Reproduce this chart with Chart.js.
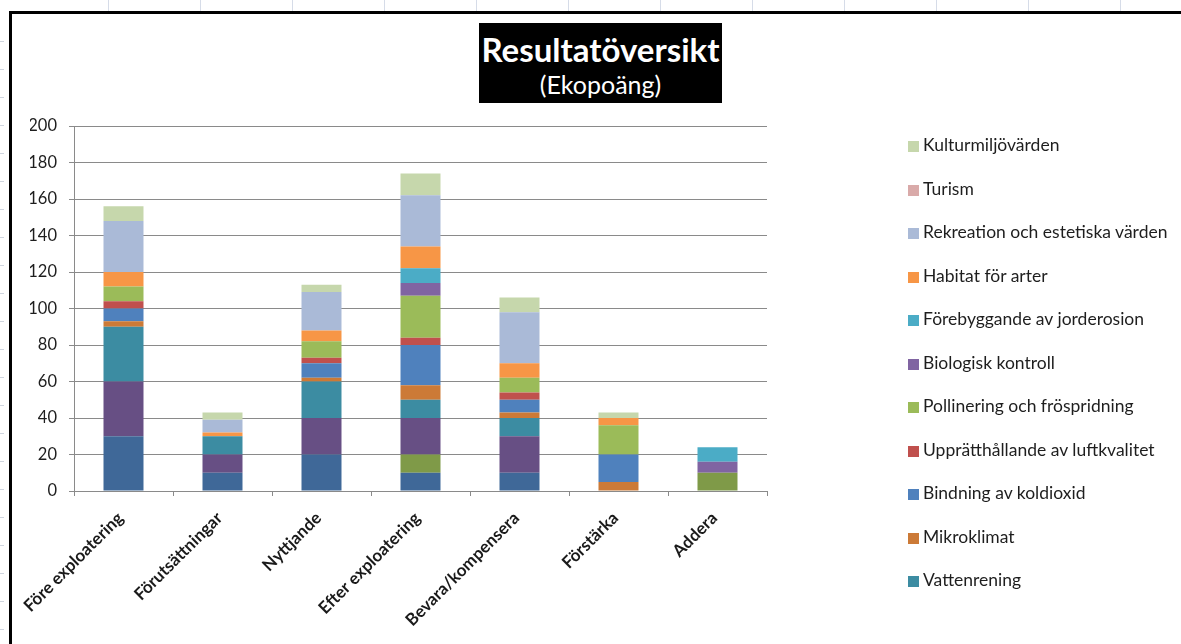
<!DOCTYPE html>
<html lang="sv">
<head>
<meta charset="utf-8">
<title>Resultatöversikt</title>
<script src="https://cdn.jsdelivr.net/npm/chart.js@4.4.1/dist/chart.umd.min.js"></script>
<style>
    html, body { margin: 0; padding: 0; background: #fff; }
    body { width: 1181px; height: 644px; position: relative; overflow: hidden; font-family: Lato, sans-serif; }
    /* kalkylbladets rutnät bakom diagrammet */
    .sheet-top { position: absolute; left: 0; top: 0; width: 1181px; height: 11px;
        background: repeating-linear-gradient(90deg, transparent 0 91px, #d6dce8 91px 92px); background-position: 17px 0; }
    .sheet-left { position: absolute; left: 0; top: 14px; width: 4px; height: 630px;
        background: repeating-linear-gradient(180deg, transparent 0 27px, #cfd5df 27px 28px); background-position: 0 0; }
    .frame { position: absolute; left: 9px; top: 11px; width: 1172px; height: 633px;
        border-left: 3px solid #000; border-top: 3px solid #000; background: #fff; }
    .chart-wrap { position: absolute; left: 12px; top: 14px; width: 1169px; height: 630px; }
    .title-box { position: absolute; left: 479px; top: 23px; width: 243px; height: 80px; background: #000;
        color: #fff; text-align: center; }
    .title-box .t1 { font-weight: 700; font-size: 33px; line-height: 36px; margin-top: 8px; }
    .title-box .t2 { font-size: 25px; line-height: 30px; margin-top: 2px; }
    #legend { position: absolute; left: 908px; top: 0; margin: 0; padding: 0; list-style: none; }
    #legend li { position: absolute; left: 0; white-space: nowrap; font-size: 17.5px; color: #1e1e1e; line-height: 20px; }
    #legend li span.box { display: inline-block; width: 11px; height: 11px; margin-right: 4px; vertical-align: -1px; }
</style>
</head>
<body>
<div class="sheet-top"></div>
<div class="sheet-left"></div>
<div class="frame"></div>
<div class="chart-wrap"><canvas id="chart"></canvas></div>
<div class="title-box"><div class="t1">Resultatöversikt</div><div class="t2">(Ekopoäng)</div></div>
<ul id="legend"></ul>
<script>
'use strict';

// ===== Data =====
const categories = ['Före exploatering', 'Förutsättningar', 'Nyttjande', 'Efter exploatering', 'Bevara/kompensera', 'Förstärka', 'Addera'];
const yTicks = [0, 20, 40, 60, 80, 100, 120, 140, 160, 180, 200];

// serier nedifrån och upp (de tre första syns inte i den avklippta legenden)
const livsmedel        = [30, 10, 20, 10, 10, 0, 0];
const farskvatten      = [0, 0, 0, 10, 0, 0, 10];
const extremvader      = [30, 10, 20, 20, 20, 0, 0];
const vattenrening     = [30, 10, 20, 10, 10, 0, 0];
const mikroklimat      = [3, 0, 2, 8, 3, 5, 0];
const koldioxid        = [7, 0, 8, 22, 7, 15, 0];
const luftkvalitet     = [4, 0, 3, 4, 4, 0, 0];
const pollinering      = [8, 0, 9, 23, 8, 16, 0];
const biologisk        = [0, 0, 0, 7, 0, 0, 6];
const jorderosion      = [0, 0, 0, 8, 0, 0, 8];
const habitat          = [8, 2, 6, 12, 8, 4, 0];
const rekreation       = [28, 7, 21, 28, 28, 0, 0];
const turism           = [0, 0, 0, 0, 0, 0, 0];
const kulturmiljo      = [8, 4, 4, 12, 8, 3, 0];

const seriesNames = ['Livsmedel', 'Färskvatten', 'Skydd mot extremväder', 'Vattenrening', 'Mikroklimat',
    'Bindning  av koldioxid', 'Upprätthållande  av luftkvalitet', 'Pollinering  och fröspridning', 'Biologisk kontroll',
    'Förebyggande  av jorderosion', 'Habitat för arter', 'Rekreation och estetiska  värden', 'Turism', 'Kulturmiljövärden'];
const seriesValues = [livsmedel, farskvatten, extremvader, vattenrening, mikroklimat, koldioxid, luftkvalitet,
    pollinering, biologisk, jorderosion, habitat, rekreation, turism, kulturmiljo];
const seriesColors = ['#3F6898', '#7F9A48', '#674F84', '#3C8CA2', '#CC7A37', '#4F81BD', '#C0504D',
    '#9BBB59', '#8064A2', '#4BACC6', '#F79646', '#AABAD7', '#D9AAA9', '#C6D7AC'];

// Legenden i originalet är avklippt: bara de översta 11 posterna syns
const legendVisible = 11;

const FONT = 'Lato, "Open Sans", sans-serif';
const GRID = '#8a8a8a';

// ===== Chart =====
const datasets = seriesNames.map((name, i) => ({
    label: name,
    data: seriesValues[i],
    backgroundColor: seriesColors[i],
    borderWidth: 0,
    barPercentage: 0.404,
    categoryPercentage: 1
}));

const chart = new Chart(document.getElementById('chart'), {
    type: 'bar',
    data: { labels: categories, datasets },
    options: {
        responsive: true,
        maintainAspectRatio: false,
        animation: false,
        layout: { padding: { left: 18, right: 414, top: 112, bottom: 0 } },
        plugins: {
            legend: { display: false },
            tooltip: { enabled: false }
        },
        scales: {
            x: {
                stacked: true,
                grid: { offset: true, drawOnChartArea: false, drawTicks: true, tickLength: 5, color: GRID },
                border: { display: true, color: GRID, width: 1 },
                ticks: {
                    autoSkip: false, minRotation: 45, maxRotation: 45, padding: 12, labelOffset: -3,
                    color: '#1a1a1a', font: { family: FONT, size: 17, weight: 700 }
                },
                afterFit: (s) => { s.height = 153; }
            },
            y: {
                stacked: true,
                min: 0, max: 200,
                afterBuildTicks: (s) => { s.ticks = yTicks.map(v => ({ value: v })); },
                grid: { color: GRID, tickLength: 5, lineWidth: 1 },
                border: { display: true, color: GRID, width: 1 },
                ticks: { padding: 12, color: '#1e1e1e', font: { family: FONT, size: 16.5 } },
                afterFit: (s) => { s.width = 44; }
            }
        }
    }
});

// ===== HTML-legend (omvänd ordning, som i Excel) =====
(() => {
    const ul = document.getElementById('legend');
    const items = chart.data.datasets.slice().reverse().slice(0, legendVisible);
    items.forEach((ds, i) => {
        const li = document.createElement('li');
        li.style.top = (145 + i * 43.5 - 10) + 'px';
        const box = document.createElement('span');
        box.className = 'box';
        box.style.background = ds.backgroundColor;
        li.appendChild(box);
        li.appendChild(document.createTextNode(ds.label));
        ul.appendChild(li);
    });
})();
</script>
</body>
</html>
